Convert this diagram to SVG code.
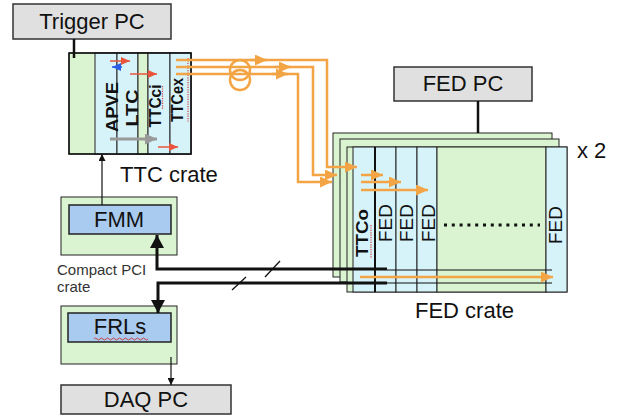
<svg xmlns="http://www.w3.org/2000/svg" width="617" height="417" viewBox="0 0 617 417">
<style>
.pc{fill:#e0e0e0;stroke:#333;stroke-width:1.5}
.gr{fill:#daf4d1;stroke:#222;stroke-width:1}
.bl{fill:#d7f3fa;stroke:#222;stroke-width:1}
.in{fill:#a9cbef;stroke:#222;stroke-width:1.5}
.t{font-family:"Liberation Sans",Arial,sans-serif;fill:#111}
.big{font-size:22px}
.lab{font-size:19px}
.bold{font-weight:bold;font-size:17px}
.small{font-size:15px;fill:#333}
.or{fill:none;stroke:#f3a444;stroke-width:2.5}
.blk{fill:none;stroke:#111;stroke-width:3}
.thin{fill:none;stroke:#111;stroke-width:1.2}
.sq{fill:none;stroke:#d04040;stroke-width:1.2;stroke-dasharray:1.2 1.2}
</style>
<defs>
<marker id="ao" markerUnits="userSpaceOnUse" markerWidth="13" markerHeight="11" refX="12" refY="5.5" orient="auto"><path d="M0,0 L12,5.5 L0,11 z" fill="#f3a444"/></marker>
<marker id="ab" markerUnits="userSpaceOnUse" markerWidth="13" markerHeight="14" refX="13" refY="7" orient="auto"><path d="M0,0 L13,7 L0,14 z" fill="#111"/></marker>
<marker id="at" markerUnits="userSpaceOnUse" markerWidth="7" markerHeight="7" refX="7" refY="3.5" orient="auto"><path d="M0,0 L7,3.5 L0,7 z" fill="#111"/></marker>
<marker id="ar" markerUnits="userSpaceOnUse" markerWidth="9" markerHeight="8" refX="9" refY="4" orient="auto"><path d="M0,0 L9,4 L0,8 z" fill="#e8553c"/></marker>
<marker id="abl" markerUnits="userSpaceOnUse" markerWidth="9" markerHeight="8" refX="9" refY="4" orient="auto"><path d="M0,0 L9,4 L0,8 z" fill="#2a5ee8"/></marker>
<marker id="ag" markerUnits="userSpaceOnUse" markerWidth="12" markerHeight="11" refX="12" refY="5.5" orient="auto"><path d="M0,0 L12,5.5 L0,11 z" fill="#999"/></marker>
</defs>
<rect width="617" height="417" fill="#fff"/>

<g id="trigger-pc">
<rect class="pc" x="13" y="4" width="158" height="35"/>
<text class="t big" x="92" y="29" text-anchor="middle">Trigger PC</text>
</g>

<g id="ttc-crate">
<rect class="gr" x="69" y="53" width="122" height="101"/>
<rect class="bl" x="95" y="53" width="22" height="101"/>
<rect class="bl" x="117" y="53" width="21" height="101" stroke-width="2.2"/>
<rect class="gr" x="138" y="53" width="10" height="101"/>
<rect class="bl" x="148" y="53" width="22" height="101"/>
<rect class="bl" x="170" y="53" width="21" height="101" stroke-width="1.8"/>
<rect x="69" y="53" width="122" height="101" fill="none" stroke="#111" stroke-width="1.5"/>
<text class="t bold" transform="translate(118,107) rotate(-90)" text-anchor="middle" textLength="50" lengthAdjust="spacingAndGlyphs">APVE</text>
<text class="t bold" transform="translate(138,108) rotate(-90)" text-anchor="middle" textLength="37" lengthAdjust="spacingAndGlyphs">LTC</text>
<text class="t bold" transform="translate(161,106) rotate(-90)" text-anchor="middle" textLength="43" lengthAdjust="spacingAndGlyphs">TTCci</text>
<text class="t bold" transform="translate(183,100) rotate(-90)" text-anchor="middle" textLength="44" lengthAdjust="spacingAndGlyphs">TTCex</text>
<path class="sq" d="M162.5 86 V110"/>
<path class="sq" d="M188 58 V122"/>
<path d="M110 61 H130" stroke="#e8553c" stroke-width="1.5" marker-end="url(#ar)"/>
<path d="M122 67 H112" stroke="#2a5ee8" stroke-width="1.5" marker-end="url(#abl)"/>
<path d="M130 74 H157" stroke="#e8553c" stroke-width="1.5" marker-end="url(#ar)"/>
<path d="M110 139 H157" stroke="#999" stroke-width="3" marker-end="url(#ag)"/>
<path d="M158 147 H178" stroke="#e8553c" stroke-width="1.5" marker-end="url(#ar)"/>
<text class="t big" x="120" y="182">TTC crate</text>
</g>

<g id="fed-pc">
<rect class="pc" x="394" y="67" width="138" height="34"/>
<text class="t big" x="463" y="91" text-anchor="middle">FED PC</text>
</g>

<g id="fed-crate">
<rect class="gr" x="333" y="133" width="219" height="144"/>
<rect class="gr" x="340" y="139" width="219" height="143"/>
<rect class="gr" x="347" y="147" width="220" height="145"/>
<rect class="bl" x="353" y="147" width="22" height="145"/>
<rect class="bl" x="375" y="147" width="21" height="145"/>
<rect class="bl" x="396" y="147" width="21" height="145"/>
<rect class="bl" x="417" y="147" width="20" height="145"/>
<rect class="gr" x="437" y="147" width="109" height="145"/>
<rect class="bl" x="546" y="147" width="21" height="145"/>
<path d="M375 147 V292" stroke="#111" stroke-width="2"/>
<text class="t bold" transform="translate(368,233) rotate(-90)" text-anchor="middle" textLength="48" lengthAdjust="spacingAndGlyphs">TTCo</text>
<path class="sq" d="M371 225 V258"/>
<text class="t lab" transform="translate(392,223) rotate(-90)" text-anchor="middle">FED</text>
<text class="t lab" transform="translate(413,223) rotate(-90)" text-anchor="middle">FED</text>
<text class="t lab" transform="translate(435,223) rotate(-90)" text-anchor="middle">FED</text>
<text class="t lab" transform="translate(562,225) rotate(-90)" text-anchor="middle">FED</text>
<path d="M444 225 H540" stroke="#111" stroke-width="3" stroke-dasharray="3 4.8"/>
<text class="t big" x="577" y="158">x 2</text>
<text class="t big" x="415" y="318">FED crate</text>
</g>

<g id="fmm">
<rect class="gr" x="61" y="197" width="116" height="58" stroke-width="1.5"/>
<rect class="in" x="69" y="205" width="102" height="29"/>
<text class="t big" x="119" y="227" text-anchor="middle">FMM</text>
<text class="t small" x="57" y="275">Compact PCI<tspan x="57" y="292">crate</tspan></text>
</g>

<g id="frls">
<rect class="gr" x="61" y="306" width="116" height="58" stroke-width="1.5"/>
<rect class="in" x="68" y="313" width="103" height="29"/>
<text class="t big" x="120" y="334" text-anchor="middle">FRLs</text>
<path d="M94 339 q1.5 -2 3 0 t3 0 t3 0 t3 0 t3 0 t3 0 t3 0 t3 0 t3 0 t3 0 t3 0 t3 0 t3 0 t3 0 t3 0 t3 0 t3 0 t3 0" fill="none" stroke="#d04040" stroke-width="1"/>
</g>

<g id="daq-pc">
<rect class="pc" x="61" y="385" width="170" height="29"/>
<text class="t big" x="146" y="407" text-anchor="middle">DAQ PC</text>
</g>

<g id="connectors">
<path d="M74 39 V58" stroke="#111" stroke-width="2.5"/>
<path d="M478 101 V133" stroke="#111" stroke-width="2.5"/>
<path class="thin" d="M102 205 V154" marker-end="url(#at)"/>
<path class="thin" d="M171 357 V385" marker-end="url(#at)"/>
<path class="blk" d="M387 269 H157 V235" marker-end="url(#ab)"/>
<path class="blk" d="M387 283 H158 V313" marker-end="url(#ab)"/>
<path class="thin" d="M387 270 H552"/>
<path class="thin" d="M387 283 H552"/>
<path d="M265 277 L280 261" stroke="#111" stroke-width="1.3"/>
<path d="M232 290 L246 277" stroke="#111" stroke-width="1.3"/>
<path class="or" d="M176 60 H327 V167 H357" marker-end="url(#ao)"/>
<path class="or" d="M176 67 H313 V175 H337" marker-end="url(#ao)"/>
<path class="or" d="M176 74 H298 V182 H332" marker-end="url(#ao)"/>
<path class="or" d="M250 60 H267" marker-end="url(#ao)"/>
<path class="or" d="M275 67 H291" marker-end="url(#ao)"/>
<path class="or" d="M272 74 H288" marker-end="url(#ao)"/>
<circle class="or" cx="240" cy="70" r="10" stroke-width="2"/>
<circle class="or" cx="240" cy="80" r="10" stroke-width="2"/>
<path class="or" d="M361 175 H383" marker-end="url(#ao)"/>
<path class="or" d="M361 182 H401" marker-end="url(#ao)"/>
<path class="or" d="M361 190 H428" marker-end="url(#ao)"/>
<path class="or" d="M360 277 H553" marker-end="url(#ao)"/>
</g>
</svg>
